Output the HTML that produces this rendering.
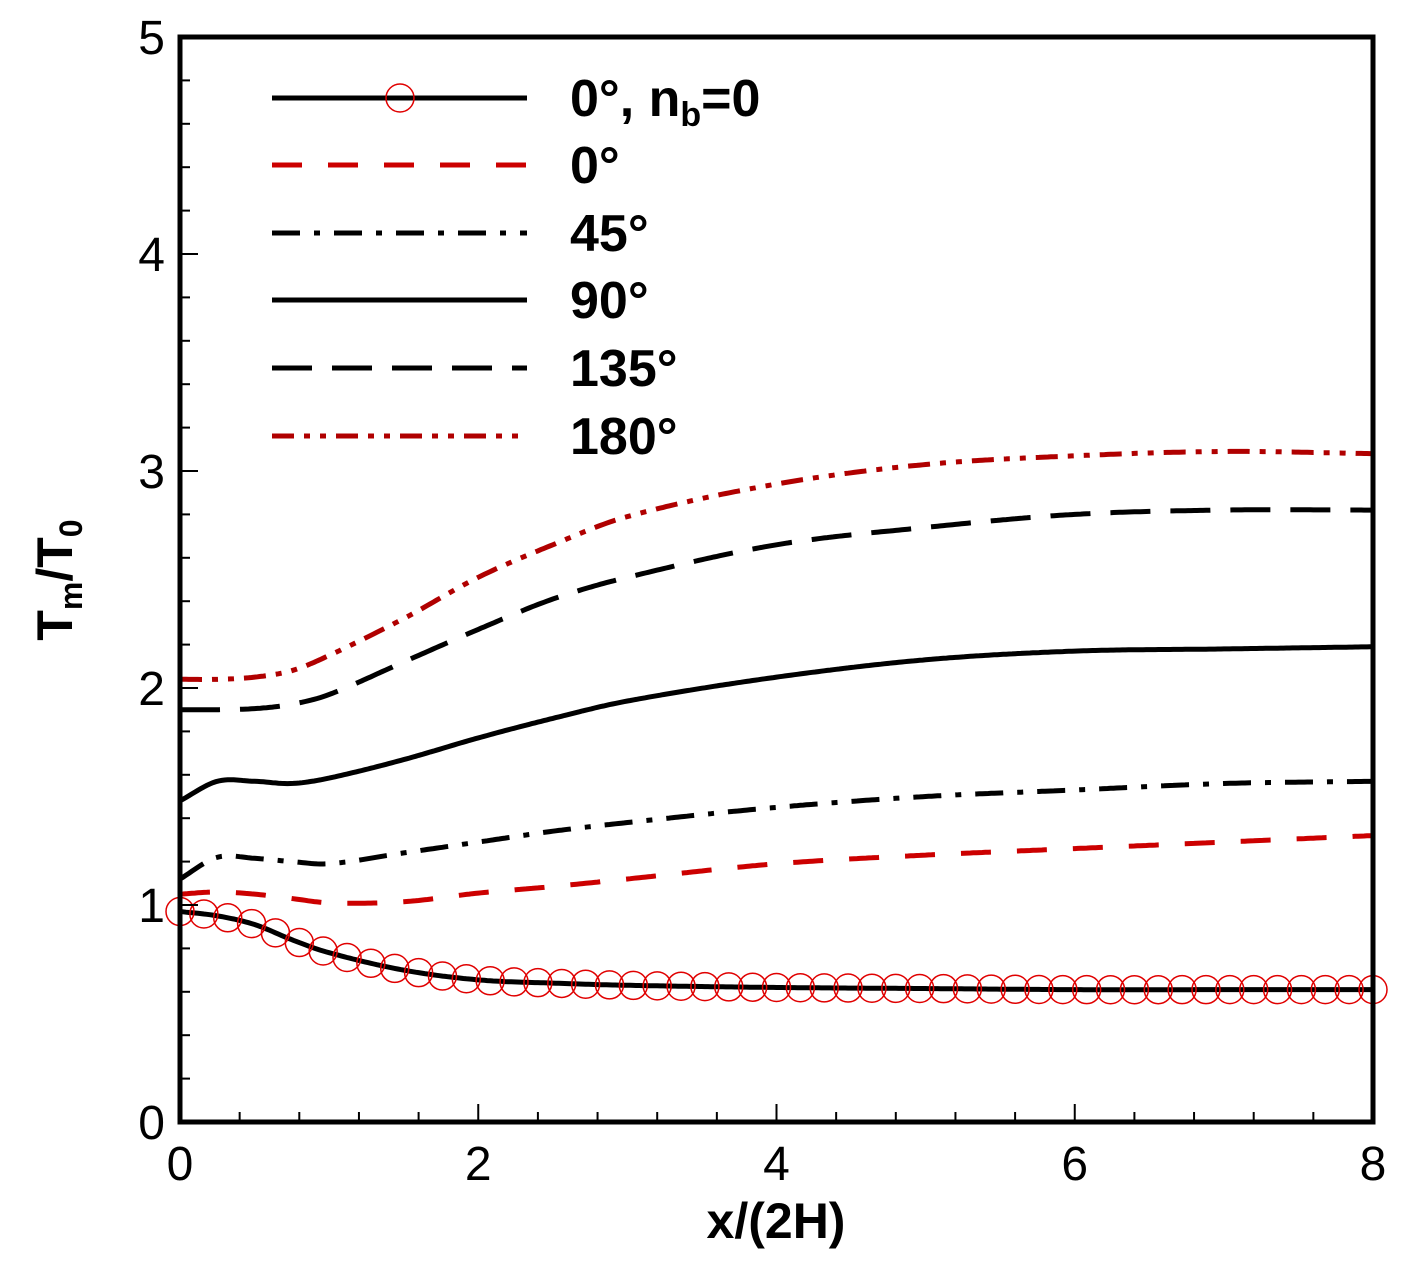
<!DOCTYPE html>
<html><head><meta charset="utf-8"><style>
html,body{margin:0;background:#fff;overflow:hidden}
svg{display:block}
text{font-family:"Liberation Sans",sans-serif}
</style></head><body>
<svg id="c" width="1406" height="1266" viewBox="0 0 1406 1266" xmlns="http://www.w3.org/2000/svg">
<g id="plot"></g>
<text x="776" y="1238" font-size="50" font-weight="bold" text-anchor="middle">x/(2H)</text>
<text transform="translate(72,580) rotate(-90)" font-size="50" font-weight="bold" text-anchor="middle">T<tspan font-size="32" dy="10">m</tspan><tspan dy="-10">/T</tspan><tspan font-size="32" dy="10">0</tspan></text>
</svg>
<script>
const xs = [0,0.25,0.5,0.75,1,1.5,2,2.5,3,4,5,6,7,8];
const sNb0 = [0.97,0.95,0.91,0.84,0.78,0.70,0.655,0.64,0.63,0.62,0.615,0.61,0.61,0.61];
const s0 = [1.05,1.06,1.05,1.03,1.01,1.015,1.055,1.085,1.12,1.19,1.23,1.26,1.29,1.32];
const s45 = [1.12,1.22,1.215,1.20,1.19,1.24,1.29,1.34,1.38,1.45,1.50,1.53,1.56,1.57];
const s90 = [1.48,1.57,1.57,1.56,1.585,1.67,1.77,1.86,1.94,2.05,2.13,2.17,2.18,2.19];
const s135 = [1.90,1.90,1.905,1.925,1.97,2.12,2.27,2.41,2.51,2.66,2.74,2.80,2.82,2.82];
const s180 = [2.04,2.04,2.05,2.08,2.15,2.32,2.51,2.66,2.79,2.94,3.03,3.07,3.09,3.08];
const xTicks = [0,2,4,6,8];
const yTicks = [0,1,2,3,4,5];
const legendLabels = ["0°, n_b=0","0°","45°","90°","135°","180°"];

const X0=180,X1=1373,Y0=1122,Y1=37;
const sx=v=>X0+(X1-X0)*v/8;
const sy=v=>Y0-(Y0-Y1)*v/5;
const NS="http://www.w3.org/2000/svg";
const g=document.getElementById('plot');
function mk(t,a){const e=document.createElementNS(NS,t);for(const k in a)e.setAttribute(k,a[k]);g.appendChild(e);return e;}
function interp(arr,x){for(let i=0;i<xs.length-1;i++){if(x<=xs[i+1]){const t=(x-xs[i])/(xs[i+1]-xs[i]);
 const p0=arr[Math.max(i-1,0)],p1=arr[i],p2=arr[i+1],p3=arr[Math.min(i+2,arr.length-1)];
 const h=xs[i+1]-xs[i];
 const m1=i>0?(p2-p0)/(xs[i+1]-xs[i-1])*h:(p2-p1);
 const m2=i+2<arr.length?(p3-p1)/(xs[i+2]-xs[i])*h:(p2-p1);
 const t2=t*t,t3=t2*t;
 return (2*t3-3*t2+1)*p1+(t3-2*t2+t)*m1+(-2*t3+3*t2)*p2+(t3-t2)*m2;}}return arr[arr.length-1];}
function pathFor(arr){let d="";for(let i=0;i<=400;i++){const x=8*i/400;d+=(i?"L":"M")+sx(x).toFixed(1)+","+sy(interp(arr,x)).toFixed(1);}return d;}

const series=[
 {arr:s180,c:"#b00000",dash:"22 10 6 10 6 10",name:"series-180"},
 {arr:s135,c:"#000",dash:"40 20",name:"series-135"},
 {arr:s90,c:"#000",dash:"",name:"series-90"},
 {arr:s45,c:"#000",dash:"28 14 6 14",name:"series-45"},
 {arr:s0,c:"#cc0000",dash:"30 26",name:"series-0"},
 {arr:sNb0,c:"#000",dash:"",name:"series-0-nb0"}];
series.forEach(s=>{const p=mk('path',{d:pathFor(s.arr),fill:"none",stroke:s.c,"stroke-width":5,"stroke-dasharray":s.dash});

});
for(let x=0;x<=8.001;x+=0.16){const c=mk('circle',{cx:sx(x),cy:sy(interp(sNb0,x)),r:14,fill:"none",stroke:"#e00000","stroke-width":1.5});

}

for(let v=0;v<=8.001;v+=0.4){const maj=Math.abs(v/2-Math.round(v/2))<1e-6;const t=mk('line',{x1:sx(v),x2:sx(v),y1:Y0,y2:Y0-(maj?18:10),stroke:"#000","stroke-width":2});

}
for(let v=0;v<=5.001;v+=0.2){const maj=Math.abs(v-Math.round(v))<1e-6;const t=mk('line',{x1:X0,x2:X0+(maj?18:10),y1:sy(v),y2:sy(v),stroke:"#000","stroke-width":2});

}
xTicks.forEach(v=>{const t=mk('text',{x:sx(v),y:1180,"font-size":48,"text-anchor":"middle"});t.textContent=v;

});
yTicks.forEach(v=>{const t=mk('text',{x:165,y:sy(v)+17,"font-size":48,"text-anchor":"end"});t.textContent=v;

});
const fr=mk('rect',{x:X0,y:Y1,width:X1-X0,height:Y0-Y1,fill:"none",stroke:"#000","stroke-width":5});



const lgY=[98,165,233,300,368,436];
const lgOrder=[5,4,3,2,1,0];
lgOrder.forEach((si,i)=>{const s=series[si];
 const l=mk('line',{x1:272,x2:527,y1:lgY[i],y2:lgY[i],stroke:s.c,"stroke-width":5,"stroke-dasharray":s.dash});
 
 
 const t=mk('text',{x:570,y:lgY[i]+18,"font-size":52,"font-weight":"bold"});
 
 
 if(i===0){t.innerHTML='0°, n<tspan font-size="34" dy="10">b</tspan><tspan dy="-10">=0</tspan>';
  const c=mk('circle',{cx:400,cy:lgY[i],r:14,fill:"none",stroke:"#e00000","stroke-width":1.5});
  
  }
 else t.textContent=legendLabels[i];
});
</script>
</body></html>
